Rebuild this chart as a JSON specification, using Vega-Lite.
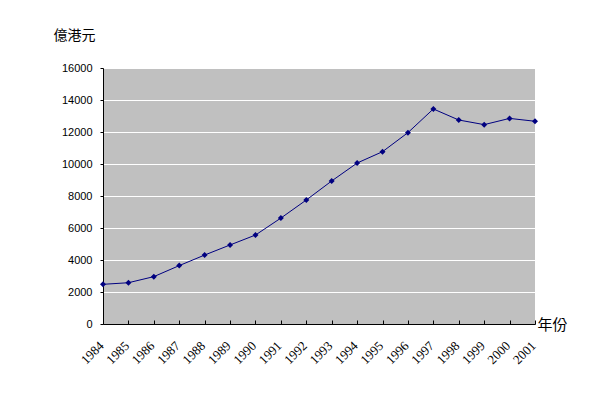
{
  "$schema": "https://vega.github.io/schema/vega-lite/v6.json",
  "width": 432,
  "height": 256,
  "autosize": {"type": "none"},
  "padding": {"left": 103, "top": 68, "right": 55, "bottom": 72},
  "background": "white",
  "config": {
    "view": {"fill": "#C0C0C0", "stroke": null}
  },
  "data": {
    "values": [
      {"year": "1984", "value": 2480},
      {"year": "1985", "value": 2580},
      {"year": "1986", "value": 2960},
      {"year": "1987", "value": 3650},
      {"year": "1988", "value": 4310},
      {"year": "1989", "value": 4940},
      {"year": "1990", "value": 5560},
      {"year": "1991", "value": 6620},
      {"year": "1992", "value": 7750},
      {"year": "1993", "value": 8940},
      {"year": "1994", "value": 10060},
      {"year": "1995", "value": 10770},
      {"year": "1996", "value": 11960},
      {"year": "1997", "value": 13440},
      {"year": "1998", "value": 12750},
      {"year": "1999", "value": 12460},
      {"year": "2000", "value": 12850},
      {"year": "2001", "value": 12670}
    ]
  },
  "encoding": {
    "x": {
      "field": "year",
      "type": "ordinal",
      "scale": {"type": "point", "padding": 0},
      "axis": {
        "title": "年份",
        "titleFont": "Noto Sans CJK TC",
        "titleFontSize": 15,
        "titleFontWeight": "normal",
        "titleColor": "black",
        "titleAnchor": "start",
        "titleAlign": "left",
        "titleBaseline": "middle",
        "titleX": 434,
        "titleY": 0,
        "labelAngle": -45,
        "labelFont": "Liberation Serif",
        "labelFontSize": 13,
        "labelColor": "black",
        "labelPadding": 19,
        "labelOffset": -6,
        "domainColor": "black",
        "domainWidth": 1,
        "tickColor": "black",
        "tickSize": -4,
        "grid": false
      }
    },
    "y": {
      "field": "value",
      "type": "quantitative",
      "scale": {"domain": [0, 16000], "nice": false},
      "axis": {
        "title": "億港元",
        "titleFont": "Noto Sans CJK TC",
        "titleFontSize": 14,
        "titleFontWeight": "normal",
        "titleColor": "black",
        "titleAngle": 0,
        "titleAlign": "left",
        "titleBaseline": "middle",
        "titleX": -50,
        "titleY": -33,
        "values": [0, 2000, 4000, 6000, 8000, 10000, 12000, 14000, 16000],
        "format": "d",
        "labelFont": "Liberation Sans",
        "labelFontSize": 11,
        "labelColor": "black",
        "labelPadding": 8,
        "domainColor": "black",
        "tickColor": "black",
        "tickSize": 3,
        "grid": true,
        "gridColor": "white",
        "gridWidth": 1,
        "gridOpacity": 1
      }
    }
  },
  "layer": [
    {"mark": {"type": "line", "color": "#000080", "strokeWidth": 1}},
    {"mark": {"type": "point", "shape": "diamond", "filled": true, "color": "#000080", "size": 36, "opacity": 1}}
  ]
}
